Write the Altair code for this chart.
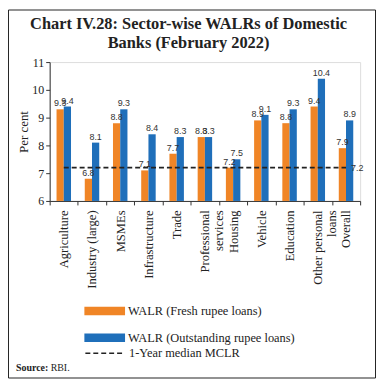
import altair as alt
import pandas as pd

categories = ["Agriculture", "Industry (large)", "MSMEs", "Infrastructure", "Trade",
              "Professional services", "Housing", "Vehicle", "Education",
              "Other personal loans", "Overall"]
fresh = [9.3, 6.8, 8.8, 7.1, 7.7, 8.3, 7.2, 8.9, 8.8, 9.4, 7.9]
outstanding = [9.4, 8.1, 9.3, 8.4, 8.3, 8.3, 7.5, 9.1, 9.3, 10.4, 8.9]
mclr = 7.2
y_min, y_max = 6, 11
y_ticks = [6, 7, 8, 9, 10, 11]
series_names = ["WALR (Fresh rupee loans)", "WALR (Outstanding rupee loans)"]
mclr_name = "1-Year median MCLR"
colors = ["#F08526", "#1F6FBA"]
title_lines = ["Chart IV.28: Sector-wise WALRs of Domestic", "Banks (February 2022)"]
source_bold = "Source:"
source_text = "RBI."

rows = []
for c, f, o in zip(categories, fresh, outstanding):
    rows.append({"cat": c, "series": series_names[0], "val": f})
    rows.append({"cat": c, "series": series_names[1], "val": o})
bars_df = pd.DataFrame(rows)
line_df = pd.DataFrame({"cat": categories, "val": [mclr] * len(categories), "kind": [mclr_name] * len(categories)})
last_df = pd.DataFrame({"cat": [categories[-1]], "val": [mclr]})

SERIF = "Liberation Serif"
SANS = "Liberation Sans"

label_expr = ("datum.value == 'Professional services' ? ['Professional', 'services'] : "
              "datum.value == 'Other personal loans' ? ['Other personal', 'loans'] : datum.label")

x_enc = alt.X("cat:N", sort=categories, title=None,
              scale=alt.Scale(paddingInner=0, paddingOuter=0),
              axis=alt.Axis(labelAngle=-90, labelExpr=label_expr, tickBand="extent",
                            labelFont=SERIF, labelFontSize=12.7, labelColor="#222",
                            labelLineHeight=13.5, labelPadding=5, tickSize=4,
                            labelOverlap=False, labelLimit=200,
                            domainColor="#333", tickColor="#333"))
y_scale = alt.Scale(domain=[y_min, y_max], nice=False, zero=False)
y_enc = alt.Y("val:Q", scale=y_scale, title="Per cent",
              axis=alt.Axis(values=y_ticks, grid=False, tickSize=4,
                            labelOverlap=False, labelFlush=False,
                            labelFont=SERIF, labelFontSize=12, labelColor="#222",
                            titleFont=SERIF, titleFontSize=13, titleFontWeight="normal",
                            titleColor="#222", titlePadding=1,
                            domainColor="#333", tickColor="#333"))
xoff = alt.XOffset("series:N", sort=series_names,
                   scale=alt.Scale(paddingOuter=0.95, paddingInner=0))

bars = alt.Chart(bars_df).mark_bar().encode(
    x=x_enc, y=y_enc, y2=alt.datum(y_min), xOffset=xoff,
    color=alt.Color("series:N", sort=series_names,
                    scale=alt.Scale(domain=series_names, range=colors),
                    legend=alt.Legend(title=None, orient="none", legendX=35, legendY=230.5,
                                      symbolType="M-1,-0.21H1V0.21H-1Z", symbolSize=1681,
                                      symbolStrokeWidth=0, symbolOpacity=1,
                                      labelFont=SERIF, labelFontSize=12.5, labelColor="#222",
                                      labelLimit=300,
                                      labelOffset=3, rowPadding=-22, padding=0))
)

labels = alt.Chart(bars_df).mark_text(dy=-6, font=SANS, fontSize=9, color="#333").encode(
    x=x_enc, y=y_enc, xOffset=xoff,
    text=alt.Text("val:Q", format=".1f")
)

line = alt.Chart(line_df).mark_line(strokeWidth=1.6, color="#222").encode(
    x=x_enc, y=y_enc,
    strokeDash=alt.StrokeDash("kind:N", scale=alt.Scale(domain=[mclr_name], range=[[5, 3]]),
                              legend=alt.Legend(title=None, orient="none", legendX=35, legendY=273.5,
                                                symbolType="stroke", symbolSize=1444,
                                                symbolStrokeColor="#222", symbolStrokeWidth=1.6,
                                                labelFont=SERIF, labelFontSize=12.5, labelColor="#222",
                                                labelLimit=300,
                                                labelOffset=5, padding=0))
)

mclr_label = alt.Chart(last_df).mark_text(align="left", dx=5, font=SANS, fontSize=9, color="#333").encode(
    x=x_enc, y=y_enc,
    text=alt.Text("val:Q", format=".1f")
)

title1 = alt.Chart(pd.DataFrame({"t": [title_lines[0]]})).mark_text(
    align="center", baseline="alphabetic", font=SERIF, fontSize=16.5, fontWeight="bold", color="#222").encode(
    x=alt.value(140), y=alt.value(-33), text="t:N")
title2 = alt.Chart(pd.DataFrame({"t": [title_lines[1]]})).mark_text(
    align="center", baseline="alphabetic", font=SERIF, fontSize=16.5, fontWeight="bold", color="#222").encode(
    x=alt.value(140), y=alt.value(-14), text="t:N")

src_b = alt.Chart(pd.DataFrame({"t": [source_bold]})).mark_text(
    align="left", baseline="middle", font=SERIF, fontSize=10, fontWeight="bold", color="#222").encode(
    x=alt.value(-34), y=alt.value(308), text="t:N")
src_n = alt.Chart(pd.DataFrame({"t": [source_text]})).mark_text(
    align="left", baseline="middle", font=SERIF, fontSize=10, color="#222").encode(
    x=alt.value(1), y=alt.value(308), text="t:N")

border = alt.Chart(pd.DataFrame({"a": [0]})).mark_rect(fill=None, stroke="#222", strokeWidth=1).encode(
    x=alt.value(-41.5), x2=alt.value(313 + 15.5), y=alt.value(-52.5), y2=alt.value(140 + 178.5))

chart = alt.layer(border, bars, labels, line, mclr_label, title1, title2, src_b, src_n).properties(
    width=313, height=140,
    autosize=alt.AutoSizeParams(type="none"),
    padding={"left": 42, "top": 53, "right": 16, "bottom": 180},
).configure_view(stroke=None).configure(background="white")

chart.save("out.html", embed_options={"renderer": "svg", "actions": False})
